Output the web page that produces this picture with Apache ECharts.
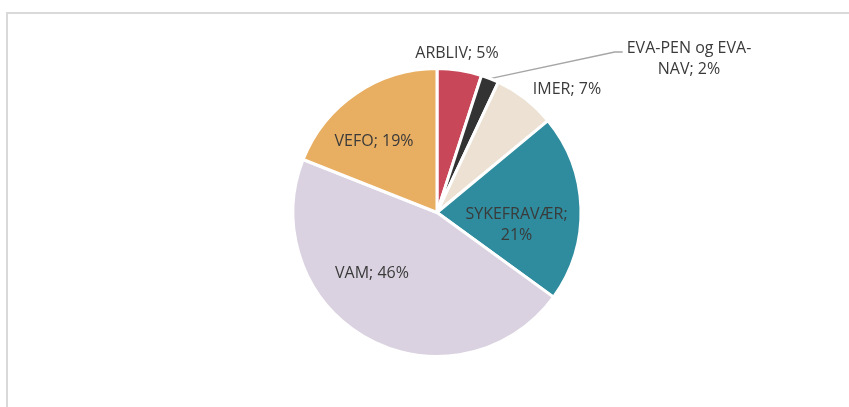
<!DOCTYPE html>
<html>
<head>
<meta charset="utf-8">
<script src="https://cdn.jsdelivr.net/npm/echarts@6/dist/echarts.min.js"></script>
<style>
    html, body { margin: 0; padding: 0; background: #fff; }
    #wrap { position: relative; width: 849px; height: 407px; overflow: hidden; }
    #frame { position: absolute; left: 6px; top: 12px; width: 900px; height: 420px;
             border-left: 2px solid #d9d9d9; border-top: 2px solid #d9d9d9; }
    #chart { position: absolute; left: 0; top: 0; width: 849px; height: 407px; }
</style>
</head>
<body>
<div id="wrap">
    <div id="frame"></div>
    <div id="chart"></div>
</div>
<script>
// andeler per område (prosent)
var categories = ['ARBLIV', 'EVA-PEN og EVA-NAV', 'IMER', 'SYKEFRAVÆR', 'VAM', 'VEFO'];
var shares = [5, 2, 7, 21, 46, 19];
var colors = ['#c8485a', '#333333', '#ece1d2', '#2e8c9e', '#dad2e0', '#e8ae62'];

window.onload = function () {
    var cx = 437, cy = 212.5;
    // label centres, relative to the pie centre
    var spots = [[20, -159], [252, -153.5], [130, -123.5], [79.5, 12], [-65, 61], [-63, -71.5]];

    var myChart = echarts.init(document.getElementById('chart'));

    var data = [];
    for (var i = 0; i < categories.length; i++) {
        var item = { name: categories[i], value: shares[i], itemStyle: { color: colors[i] } };
        if (i == 1) {
            item.labelLine = { show: true, lineStyle: { color: '#a6a6a6', width: 1.5 } };
        }
        data.push(item);
    }

    option = {
        animation: false,
        series: [
            {
                type: 'pie',
                center: [cx, cy],
                radius: 144,
                startAngle: 90,
                clockwise: true,
                data: data,
                itemStyle: { borderColor: '#ffffff', borderWidth: 3 },
                label: {
                    show: true,
                    position: 'outside',
                    color: '#3a3a3a',
                    fontFamily: 'Open Sans',
                    fontSize: 16,
                    lineHeight: 21,
                    align: 'center',
                    formatter: function (p) {
                        var t = p.name + '; ' + p.value + '%';
                        if (p.name == 'SYKEFRAVÆR') t = p.name + ';\n' + p.value + '%';
                        if (p.name == 'EVA-PEN og EVA-NAV') t = t.replace('EVA-NAV', 'EVA-\nNAV');
                        return t;
                    }
                },
                labelLine: { show: false, length: 10, length2: 10 },
                labelLayout: function (p) {
                    var s = spots[p.dataIndex];
                    var res = {
                        x: cx + s[0],
                        y: cy + s[1],
                        align: 'center',
                        verticalAlign: 'middle'
                    };
                    if (p.dataIndex == 1 && p.labelLinePoints) {
                        var start = p.labelLinePoints[0];
                        var left = cx + s[0] - p.labelRect.width / 2;
                        var ly = cy + s[1] - 7;
                        res.labelLinePoints = [start, [left - 12, ly], [left - 4, ly]];
                    }
                    return res;
                }
            }
        ]
    };
    myChart.setOption(option);
};
</script>
</body>
</html>
